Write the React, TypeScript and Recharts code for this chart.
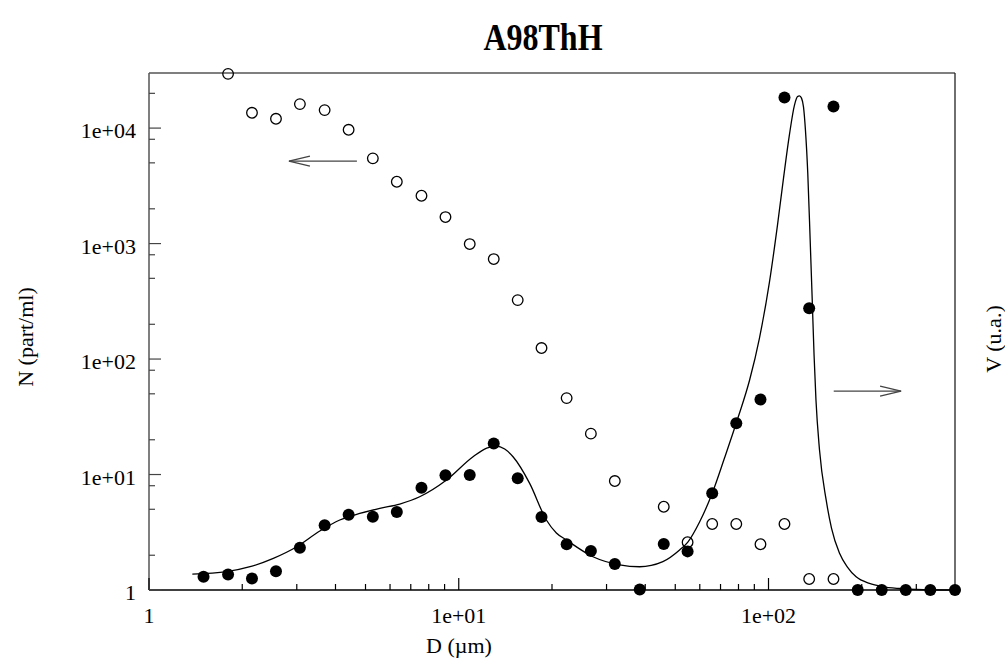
import React from "react";
import { ScatterChart, Scatter, XAxis, YAxis, ReferenceLine } from "recharts";

// size classes (µm), shared by both measured series
const diam = [
  1.5, 1.8, 2.15, 2.57, 3.07, 3.69, 4.41, 5.28, 6.31, 7.58, 9.06, 10.85, 12.97,
  15.5, 18.5, 22.3, 26.7, 31.9, 38.4, 45.9, 54.8, 65.8, 78.7, 94.2, 112.6, 135.3,
  162.1, 194.1, 232, 277.4, 333, 400,
];

// V (u.a.) - filled dots
const volume = [
  1.3, 1.36, 1.26, 1.45, 2.32, 3.63, 4.49, 4.31, 4.73, 7.69, 9.84, 9.9, 18.6,
  9.27, 4.29, 2.49, 2.18, 1.68, 1.01, 2.5, 2.16, 6.88, 27.8, 44.6, 18440, 275,
  15410, 1, 1, 1, 1, 1,
];

// N (part/ml) - open dots, null where no point is drawn
const counts = [
  null, 29500, 13570, 12040, 16140, 14320, 9670, 5470, 3430, 2594, 1696, 990,
  734, 324, 124.5, 45.9, 22.6, 8.78, null, 5.26, 2.59, 3.73, 3.73, 2.49, 3.73,
  1.245, 1.245, null, null, null, null, null,
];

// fitted volume curve
const fitDiam = [
  1.38, 1.78, 2.12, 2.52, 3.0, 3.56, 4.13, 4.79, 5.56, 6.45, 7.48, 9.13, 11.12,
  12.31, 13.23, 14.07, 14.97, 16.94, 19.18, 20.66, 22.26, 27.12, 33.06, 38.37,
  45.6, 51.64, 54.9, 59.9, 65.8, 72.1, 79.6, 86.9, 93.5, 100.7, 106.9, 111.8,
  116.9, 121.3, 124.1, 125.9, 127.8, 129.7, 131.6, 133.9, 136.3, 138.4, 140.3,
  142.3, 146.1, 153.5, 159.7, 169.4, 179.8, 191.8, 211.8, 233.2, 264.6, 299.6, 400,
];
const fitVolume = [
  1.37, 1.44, 1.59, 1.88, 2.37, 3.24, 4.04, 4.6, 5.1, 5.55, 6.42, 8.96, 14.26,
  16.96, 17.65, 16.63, 14.26, 8.39, 4.04, 3.12, 2.71, 1.94, 1.65, 1.59, 1.76,
  2.22, 2.6, 3.88, 6.88, 13.9, 30.7, 65.8, 152, 464, 1446, 3692, 8872, 15820,
  18740, 19040, 18180, 15290, 9610, 4054, 1072, 324, 108.3, 44.2, 16.3, 6.02,
  3.44, 2.09, 1.58, 1.3, 1.14, 1.07, 1.03, 1.01, 1.0,
];

const xMajor = [1, 10, 100];
const xMajorLabels = ["1", "1e+01", "1e+02"];
const xMinor = [2, 3, 4, 5, 6, 7, 8, 9, 20, 30, 40, 50, 60, 70, 80, 90, 200, 300];
const yMajor = [1, 10, 100, 1000, 10000];
const yMajorLabels = ["1", "1e+01", "1e+02", "1e+03", "1e+04"];
const yMinor = [2, 5, 8, 20, 50, 80, 200, 500, 800, 2000, 5000, 8000, 20000];

// arrows pointing to the axis each series belongs to
const leftArrow = { from: 4.69, to: 2.83, level: 5180 };
const rightArrow = { from: 162.4, to: 267.9, level: 52.8 };

const X_DOMAIN = [1, 400];
const Y_DOMAIN = [1, 30000];
const FONT = "'Liberation Serif', 'Times New Roman', serif";

const countPoints = diam
  .map((d, i) => ({ x: d, y: counts[i] }))
  .filter((p) => p.y != null);
const volumePoints = diam.map((d, i) => ({ x: d, y: volume[i] }));
const fitPoints = fitDiam.map((d, i) => ({ x: d, y: fitVolume[i] }));

const BottomTick = ({ x, y, payload }: any) => {
  const i = xMajor.indexOf(payload.value);
  return (
    <g>
      <line x1={x} x2={x} y1={y} y2={y - (i >= 0 ? 12 : 6)} stroke="#000" strokeWidth={1.2} />
      {i >= 0 && (
        <text x={x} y={y + 33} textAnchor="middle" fontSize={22} fontFamily={FONT} fill="#000">
          {xMajorLabels[i]}
        </text>
      )}
    </g>
  );
};

const LeftTick = ({ x, y, payload }: any) => {
  const i = yMajor.indexOf(payload.value);
  return (
    <g>
      <line x1={x} x2={x + (i >= 0 ? 12 : 6)} y1={y} y2={y} stroke="#444" strokeWidth={1.2} />
      {i >= 0 && (
        <text x={x - 13} y={y + 10} textAnchor="end" fontSize={22} fontFamily={FONT} fill="#000">
          {yMajorLabels[i]}
        </text>
      )}
    </g>
  );
};

const Filled = (p: any) => <circle cx={p.cx} cy={p.cy} r={6} fill="#000" />;
const Hollow = (p: any) => (
  <circle cx={p.cx} cy={p.cy} r={5.3} fill="none" stroke="#000" strokeWidth={1.3} />
);
const NoDot = () => <g />;

const Arrow = (p: any) => {
  const { x1, y1, x2, y2 } = p;
  const dir = Math.sign(x2 - x1);
  return (
    <g stroke="#444" strokeWidth={1.3} fill="none">
      <line x1={x1} y1={y1} x2={x2} y2={y2} />
      <polyline points={`${x2 - dir * 21},${y2 - 5} ${x2},${y2} ${x2 - dir * 21},${y2 + 5}`} />
    </g>
  );
};

export default function App() {
  return (
    <div style={{ position: "absolute", left: 0, top: 0, width: 1005, height: 667, background: "#fff" }}>
      <ScatterChart width={1005} height={667} margin={{ top: 0, right: 0, bottom: 0, left: 0 }}>
        <XAxis
          dataKey="x"
          type="number"
          scale="log"
          domain={X_DOMAIN}
          ticks={[...xMajor, ...xMinor]}
          interval={0}
          height={77}
          tickSize={0}
          tickMargin={0}
          tickLine={false}
          tick={<BottomTick />}
          axisLine={{ stroke: "#000", strokeWidth: 1.5 }}
        />
        <XAxis
          xAxisId="top"
          orientation="top"
          dataKey="x"
          type="number"
          scale="log"
          domain={X_DOMAIN}
          height={73}
          tick={false}
          tickLine={false}
          axisLine={{ stroke: "#555", strokeWidth: 1.5 }}
        />
        <YAxis
          dataKey="y"
          type="number"
          scale="log"
          domain={Y_DOMAIN}
          ticks={[...yMajor, ...yMinor]}
          interval={0}
          width={149}
          tickSize={0}
          tickMargin={0}
          tickLine={false}
          tick={<LeftTick />}
          axisLine={{ stroke: "#555", strokeWidth: 1.5 }}
        />
        <YAxis
          yAxisId="v"
          orientation="right"
          dataKey="y"
          type="number"
          scale="log"
          domain={Y_DOMAIN}
          width={50}
          tick={false}
          tickLine={false}
          axisLine={{ stroke: "#222", strokeWidth: 1.3 }}
        />
        <Scatter
          data={fitPoints}
          yAxisId="v"
          shape={<NoDot />}
          line={{ stroke: "#000", strokeWidth: 1.3 }}
          lineJointType="monotoneX"
          isAnimationActive={false}
        />
        <Scatter data={countPoints} shape={<Hollow />} isAnimationActive={false} />
        <Scatter data={volumePoints} yAxisId="v" shape={<Filled />} isAnimationActive={false} />
        <ReferenceLine
          segment={[
            { x: leftArrow.from, y: leftArrow.level },
            { x: leftArrow.to, y: leftArrow.level },
          ]}
          shape={Arrow}
        />
        <ReferenceLine
          yAxisId="v"
          segment={[
            { x: rightArrow.from, y: rightArrow.level },
            { x: rightArrow.to, y: rightArrow.level },
          ]}
          shape={Arrow}
        />
      </ScatterChart>
      <svg
        width={1005}
        height={667}
        style={{ position: "absolute", left: 0, top: 0, pointerEvents: "none" }}
        fontFamily={FONT}
      >
        <text transform="translate(543,50) scale(1,1.2)" textAnchor="middle" fontSize={32} fontWeight="bold">
          A98ThH
        </text>
        <text x={459} y={653} textAnchor="middle" fontSize={22}>
          D (µm)
        </text>
        <text transform="translate(33,337) rotate(-90)" textAnchor="middle" fontSize={22}>
          N (part/ml)
        </text>
        <text transform="translate(1001,339) rotate(-90)" textAnchor="middle" fontSize={22}>
          V (u.a.)
        </text>
      </svg>
    </div>
  );
}
